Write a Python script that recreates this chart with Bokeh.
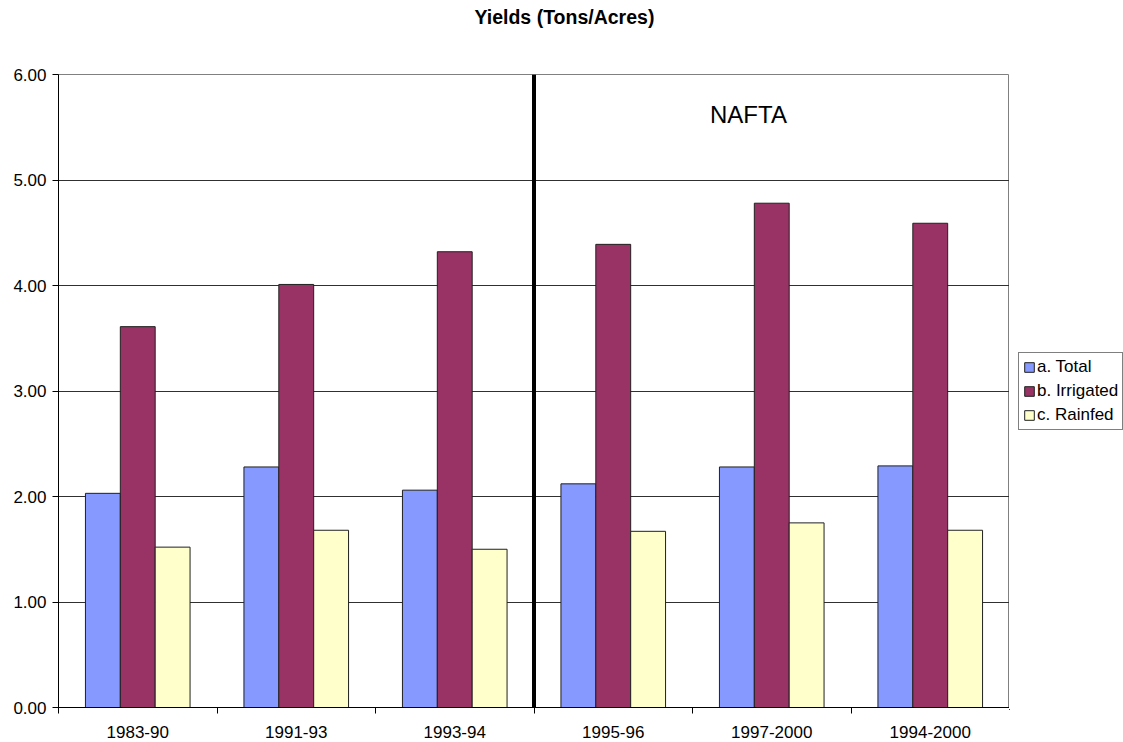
import numpy as np
from bokeh.plotting import figure
from bokeh.layouts import row
from bokeh.models import (ColumnDataSource, FixedTicker, Range1d, Span, Label, Title,
                          Legend, LegendItem, CustomJSTickFormatter)
from bokeh.embed import file_html
from bokeh.resources import INLINE

periods = ["1983-90", "1991-93", "1993-94", "1995-96", "1997-2000", "1994-2000"]
total = [2.03, 2.28, 2.06, 2.12, 2.28, 2.29]
irrigated = [3.61, 4.01, 4.32, 4.39, 4.78, 4.59]
rainfed = [1.52, 1.68, 1.50, 1.67, 1.75, 1.68]
series_names = ["a. Total", "b. Irrigated", "c. Rainfed"]
colors = ["#8599FF", "#993366", "#FFFFCC"]
y_ticks = [0, 1, 2, 3, 4, 5, 6]

FONT = "Liberation Sans"

p = figure(frame_width=951, frame_height=633, output_backend="svg",
           toolbar_location=None, x_range=Range1d(0, len(periods)),
           y_range=Range1d(0, 6), min_border_left=58, min_border_top=0,
           min_border_bottom=0, min_border_right=0)

# spacer between title and frame
p.add_layout(Title(text=" ", text_font_size="10px", standoff=31), "above")

p.title.text = "Yields (Tons/Acres)"
p.title.align = "left"
p.title.text_font = FONT
p.title.text_font_size = "19.5px"
p.title.text_font_style = "bold"
p.title.text_color = "black"
p.title.standoff = 6
p.title.offset = 416

centers = np.arange(len(periods)) + 0.5
bw = 0.22
sources = []
for i, (vals, col) in enumerate(zip([total, irrigated, rainfed], colors)):
    src = ColumnDataSource(dict(x=centers + (i - 1) * bw, top=vals))
    sources.append(src)
    p.vbar(x="x", top="top", width=bw, bottom=0, source=src,
           fill_color=col, line_color="#202020", line_width=1)

# axes
p.xaxis.ticker = FixedTicker(ticks=list(centers), minor_ticks=list(range(len(periods) + 1)))
p.xaxis.major_label_overrides = {float(c): lab for c, lab in zip(centers, periods)}
p.xaxis.major_tick_out = 0
p.xaxis.major_tick_in = 0
p.xaxis.minor_tick_out = 6
p.xaxis.minor_tick_in = 0
p.xaxis.minor_tick_line_color = "black"
p.xaxis.axis_line_color = "black"
p.xaxis.major_label_text_font = FONT
p.xaxis.major_label_text_font_size = "17px"
p.xaxis.major_label_text_color = "black"
p.xaxis.major_label_standoff = 12

p.yaxis.ticker = FixedTicker(ticks=y_ticks, minor_ticks=[])
p.yaxis.formatter = CustomJSTickFormatter(code="return tick.toFixed(2);")
p.yaxis.major_tick_out = 6
p.yaxis.major_tick_in = 0
p.yaxis.major_tick_line_color = "black"
p.yaxis.axis_line_color = "black"
p.yaxis.major_label_text_font = FONT
p.yaxis.major_label_text_font_size = "17px"
p.yaxis.major_label_text_color = "black"
p.yaxis.major_label_standoff = 6

p.xgrid.grid_line_color = None
p.ygrid.ticker = FixedTicker(ticks=y_ticks)
p.ygrid.grid_line_color = "#303030"
p.ygrid.grid_line_width = 1

p.outline_line_color = "#808080"
p.outline_line_width = 1

# NAFTA divider
p.add_layout(Span(location=3, dimension="height", line_color="black", line_width=4))
p.add_layout(Label(x=4.353, y=5.62, text="NAFTA", text_font=FONT, text_font_size="24px",
                   text_align="center", text_baseline="middle", text_color="black"))

p.background_fill_color = "white"
p.border_fill_color = "white"

# legend panel (same series sources, view range kept away from the bars)
pl = figure(width=114, height=742, output_backend="svg", toolbar_location=None,
            x_axis_location=None, y_axis_location=None,
            min_border_left=0, min_border_right=0, min_border_top=0, min_border_bottom=0,
            x_range=Range1d(100, 101), y_range=Range1d(100, 101))
pl.outline_line_color = None
pl.grid.grid_line_color = None
leg_renderers = []
for src, col in zip(sources, colors):
    leg_renderers.append(pl.vbar(x="x", top="top", width=bw, bottom=0, source=src,
                                 fill_color=col, line_color="#202020", line_width=1))
legend = Legend(items=[LegendItem(label=n, renderers=[r]) for n, r in zip(series_names, leg_renderers)],
                location=(9, 279), border_line_color="black", border_line_width=1,
                label_text_font=FONT, label_text_font_size="17px", label_text_color="black",
                glyph_width=12, glyph_height=12, spacing=4, padding=4, margin=0,
                label_standoff=2, label_height=20, background_fill_alpha=1)
pl.add_layout(legend, "center")

layout = row(p, pl, spacing=0)
open("out.html", "w").write(file_html(layout, INLINE))
